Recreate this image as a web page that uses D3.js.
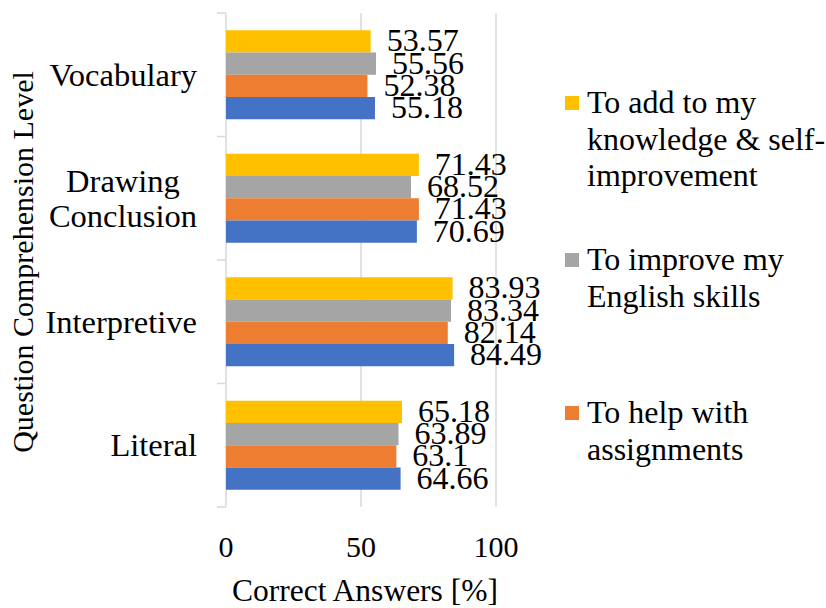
<!DOCTYPE html>
<html>
<head>
<meta charset="utf-8">
<script src="https://cdn.jsdelivr.net/npm/d3@7"></script>
<style>
  body { margin: 0; background: #fff; }
</style>
</head>
<body>
<div id="chart"></div>
<script>
// categories, top to bottom as drawn
const categories = ["Vocabulary", "Drawing Conclusion", "Interpretive", "Literal"];
const categoryLines = [["Vocabulary"], ["Drawing", "Conclusion"], ["Interpretive"], ["Literal"]];

// series, top to bottom inside each group
const seriesNames = [
  "To add to my knowledge & self-improvement",
  "To improve my English skills",
  "To help with assignments",
  "Overall"
];
const seriesColors = ["#FFC000", "#A5A5A5", "#ED7D31", "#4472C4"];

// values per series, same order as categories
const addKnowledge = [53.57, 71.43, 83.93, 65.18];
const improveEnglish = [55.56, 68.52, 83.34, 63.89];
const helpAssign = [52.38, 71.43, 82.14, 63.1];
const overall = [55.18, 70.69, 84.49, 64.66];
const seriesValues = [addKnowledge, improveEnglish, helpAssign, overall];

const xTicks = [0, 50, 100];

// legend text lines (blue entry is cut off in the source)
const legendLines = [
  ["To add to my", "knowledge & self-", "improvement"],
  ["To improve my", "English skills"],
  ["To help with", "assignments"]
];

const width = 826, height = 608;
const serif = "'Liberation Serif', 'Times New Roman', Times, serif";

const svg = d3.select("#chart").append("svg")
  .attr("width", width)
  .attr("height", height)
  .attr("font-family", serif);

const x = d3.scaleLinear().domain([0, 100]).range([226, 496]);
const y = d3.scaleBand().domain(categories).range([13, 507]);
const yInner = d3.scaleBand().domain(seriesNames)
  .range([0, y.bandwidth()]).paddingInner(0).paddingOuter(0.775);

// gridlines
svg.selectAll("line.grid")
  .data(xTicks.slice(1))
  .enter()
  .append("line")
  .attr("class", "grid")
  .attr("x1", d => x(d)).attr("x2", d => x(d))
  .attr("y1", 13).attr("y2", 507)
  .attr("stroke", "#d9d9d9")
  .attr("stroke-width", 1.5);

// category axis line + ticks
svg.append("line")
  .attr("x1", x(0)).attr("x2", x(0))
  .attr("y1", 13).attr("y2", 507)
  .attr("stroke", "#d9d9d9").attr("stroke-width", 1.5);

const bounds = categories.map(c => y(c)).concat([y.range()[1]]);
svg.selectAll("line.ytick")
  .data(bounds)
  .enter()
  .append("line")
  .attr("x1", x(0) - 9).attr("x2", x(0))
  .attr("y1", d => d).attr("y2", d => d)
  .attr("stroke", "#d9d9d9").attr("stroke-width", 1.5);

// bars
const rows = [];
categories.forEach((c, ci) => {
  seriesNames.forEach((s, si) => {
    rows.push({ cat: c, series: s, color: seriesColors[si], value: seriesValues[si][ci] });
  });
});

svg.selectAll("rect.bar")
  .data(rows)
  .enter()
  .append("rect")
  .attr("x", x(0))
  .attr("y", d => y(d.cat) + yInner(d.series))
  .attr("width", d => x(d.value) - x(0))
  .attr("height", yInner.bandwidth())
  .attr("fill", d => d.color);

// data labels
svg.selectAll("text.val")
  .data(rows)
  .enter()
  .append("text")
  .attr("x", d => x(d.value) + 16)
  .attr("y", d => y(d.cat) + yInner(d.series) + yInner.bandwidth() / 2 + 10)
  .attr("font-size", 32)
  .text(d => String(d.value));

// category labels
categories.forEach((c, i) => {
  const lines = categoryLines[i];
  const cy = y(c) + y.bandwidth() / 2;
  const g = svg.append("g");
  const texts = g.selectAll("text")
    .data(lines)
    .enter()
    .append("text")
    .attr("font-size", 32.5)
    .attr("text-anchor", "middle")
    .attr("y", (d, j) => cy + 11 + (j - (lines.length - 1) / 2) * 35)
    .text(d => d);
  let maxW = 0;
  texts.each(function () { maxW = Math.max(maxW, this.getComputedTextLength()); });
  texts.attr("x", 197 - maxW / 2);
});

// x tick labels
svg.selectAll("text.xtick")
  .data(xTicks)
  .enter()
  .append("text")
  .attr("x", d => x(d))
  .attr("y", 557)
  .attr("text-anchor", "middle")
  .attr("font-size", 30)
  .text(d => d);

// axis titles
svg.append("text")
  .attr("x", 365).attr("y", 601)
  .attr("text-anchor", "middle")
  .attr("font-size", 31.5)
  .text("Correct Answers [%]");

svg.append("text")
  .attr("transform", "translate(33,262) rotate(-90)")
  .attr("text-anchor", "middle")
  .attr("font-size", 30)
  .text("Question Comprehension Level");

// legend
const legendTop = [113, 270, 423];
legendLines.forEach((lines, i) => {
  svg.append("rect")
    .attr("x", 565).attr("y", legendTop[i] - 17)
    .attr("width", 14).attr("height", 14)
    .attr("fill", seriesColors[i]);
  svg.selectAll(null)
    .data(lines)
    .enter()
    .append("text")
    .attr("x", 587)
    .attr("y", (d, j) => legendTop[i] + j * 36.5)
    .attr("font-size", 32)
    .text(d => d);
});
</script>
</body>
</html>
